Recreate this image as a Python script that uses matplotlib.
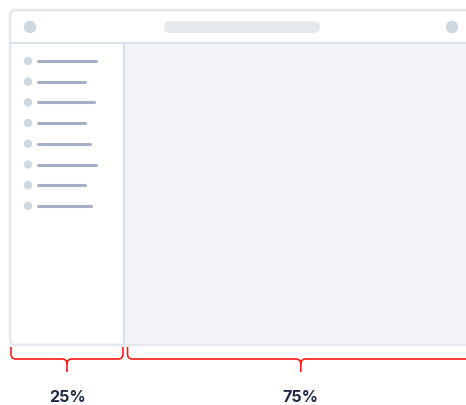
import matplotlib.pyplot as plt
from matplotlib.patches import FancyBboxPatch, Circle, Rectangle, PathPatch
from matplotlib.path import Path

# layout shares shown under the mockup
share_labels = ["25%", "75%"]
shares = [25, 75]

# sidebar menu: length of each placeholder line (px)
menu_line_lengths = [58, 47, 56, 47, 52, 58, 47, 53]

BORDER = "#e3e8ee"
DIVIDER = "#d3dde6"
DOT = "#cfd8df"
LINE = "#a3b0c6"
MAIN_BG = "#f4f4f8"
RED = "#ff1a1a"
TEXT = "#1e2b43"


def brace(ax, x0, x1, y_top, y_mid, y_tip, r=5):
    xm = (x0 + x1) / 2
    verts = [
        (x0, y_top), (x0, y_mid - r), (x0, y_mid), (x0 + r, y_mid),
        (xm - r, y_mid), (xm, y_mid), (xm, y_mid + r), (xm, y_tip),
        (xm, y_mid + r), (xm, y_mid), (xm + r, y_mid),
        (x1 - r, y_mid), (x1, y_mid), (x1, y_mid - r), (x1, y_top),
    ]
    codes = [
        Path.MOVETO, Path.LINETO, Path.CURVE3, Path.CURVE3,
        Path.LINETO, Path.CURVE3, Path.CURVE3, Path.LINETO,
        Path.MOVETO, Path.CURVE3, Path.CURVE3,
        Path.LINETO, Path.CURVE3, Path.CURVE3, Path.LINETO,
    ]
    ax.add_patch(PathPatch(Path(verts, codes), fill=False, edgecolor=RED,
                           lw=1.2, capstyle="butt"))
    return xm


def main():
    fig = plt.figure(figsize=(4.66, 4.06), dpi=100)
    ax = fig.add_axes([0, 0, 1, 1])
    ax.set_xlim(0, 466)
    ax.set_ylim(406, 0)
    ax.axis("off")

    left, top, right, bottom = 10, 11, 472, 346
    header_h = 33
    width = 466 - left
    side_w = width * shares[0] / 100
    split = left + side_w

    # window frame
    ax.add_patch(FancyBboxPatch((left, top), right - left, bottom - top,
                                boxstyle="round,pad=0,rounding_size=6",
                                facecolor="white", edgecolor=BORDER, lw=1.8))
    ax.add_patch(Rectangle((split, top + header_h), right - split,
                           bottom - top - header_h - 1.2,
                           facecolor=MAIN_BG, edgecolor="none"))
    ax.plot([left + 1, right], [top + header_h, top + header_h],
            color=DIVIDER, lw=1.2)
    ax.plot([split, split], [top + header_h, bottom - 1], color=DIVIDER, lw=1.2)

    # header
    ax.add_patch(Circle((30, 28), 6.2, facecolor=DOT, edgecolor="none"))
    ax.add_patch(Circle((452, 28), 6.2, facecolor=DOT, edgecolor="none"))
    ax.add_patch(FancyBboxPatch((164, 22), 156, 12,
                                boxstyle="round,pad=0,rounding_size=6",
                                facecolor="#e5e9ee", edgecolor="none"))

    # sidebar menu
    for i, length in enumerate(menu_line_lengths):
        y = 62 + i * 20.7
        ax.add_patch(Circle((28, y), 4.2, facecolor=DOT, edgecolor="none"))
        ax.plot([38, 38 + length], [y, y], color=LINE, lw=2.2,
                solid_capstyle="round")

    # braces and labels
    x = left
    for label, share in zip(share_labels, shares):
        w = width * share / 100
        if share == shares[-1]:
            x0, x1 = x + 3.5, x + w + 8
        else:
            x0, x1 = x + 1, x + w - 1
        xm = brace(ax, x0, x1, 348, 360, 373)
        ax.text(xm, 398, label,
                ha="center", va="center", fontsize=11.5, fontweight="bold",
                color=TEXT, family="Inter")
        x += w

    fig.savefig("out.png", dpi=100)


if __name__ == "__main__":
    main()
